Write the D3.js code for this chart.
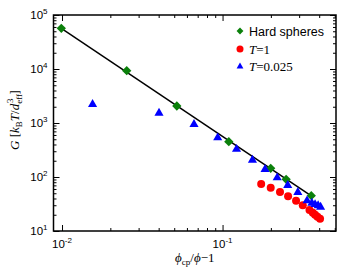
<!DOCTYPE html>
<html>
<head>
<meta charset="utf-8">
<script src="https://cdn.jsdelivr.net/npm/d3@7"></script>
<style>
  body { margin: 0; background: white; }
</style>
</head>
<body>
<svg></svg>
<script>
const width = 340;
const height = 280;
const margin = { top: 15, right: 4, bottom: 49, left: 53.5 };

// hard spheres
const hsX = [0.0099, 0.0253, 0.0519, 0.1094, 0.1995, 0.249, 0.357];
const hsG = [56700, 9300, 2065, 451, 145, 90.6, 45];
// power-law guide line
const fitX = [0.0099, 0.357];
const fitG = [56700, 44.5];
// T = 1
const t1X = [0.174, 0.1995, 0.228, 0.256, 0.287, 0.316, 0.348, 0.365, 0.377, 0.390, 0.405];
const t1G = [74, 63.4, 52.7, 44, 36.4, 29.9, 24.5, 21.8, 20, 18.4, 16.9];
// T = 0.025
const t025X = [0.0155, 0.0402, 0.0664, 0.0933, 0.1222, 0.1535, 0.184, 0.219, 0.2547, 0.2945, 0.336, 0.360, 0.377, 0.394, 0.408];
const t025G = [2220, 1531, 946, 535, 327, 206, 139, 97, 70, 52, 36.4, 33, 31, 29.6, 27.8];

const xMajor = [0.01, 0.1];
const xMajorExp = ["-2", "-1"];
const yMajor = [10, 100, 1000, 10000, 100000];
const yMajorExp = ["1", "2", "3", "4", "5"];

const sans = '"Liberation Sans", Arial, sans-serif';
const serif = '"Liberation Serif", "Times New Roman", serif';

const svg = d3.select("svg")
  .attr("width", width)
  .attr("height", height);

const x = d3.scaleLog()
  .domain([0.00885, 0.509])
  .range([margin.left, width - margin.right]);

const y = d3.scaleLog()
  .domain([10, 100000])
  .range([height - margin.bottom, margin.top]);

// minor ticks
const xMinor = [];
[0.01, 0.1].forEach(d => { for (let k = 1; k < 10; k++) xMinor.push(d * k); });
const xMinorIn = xMinor.filter(v => v >= 0.00885 && v <= 0.509 && !xMajor.includes(v));
const yMinor = [];
[10, 100, 1000, 10000].forEach(d => { for (let k = 2; k < 10; k++) yMinor.push(d * k); });

function ticks(axis, values, size) {
  return axis.tickValues(values).tickSize(-size).tickFormat("");
}

const bottom = height - margin.bottom;
const right = width - margin.right;

const axes = [
  [d3.axisBottom(x), xMajor, 6, `translate(0,${bottom})`],
  [d3.axisBottom(x), xMinorIn, 3, `translate(0,${bottom})`],
  [d3.axisTop(x), xMajor, 6, `translate(0,${margin.top})`],
  [d3.axisTop(x), xMinorIn, 3, `translate(0,${margin.top})`],
  [d3.axisLeft(y), yMajor, 6, `translate(${margin.left},0)`],
  [d3.axisLeft(y), yMinor, 3, `translate(${margin.left},0)`],
  [d3.axisRight(y), yMajor, 6, `translate(${right},0)`],
  [d3.axisRight(y), yMinor, 3, `translate(${right},0)`]
];

axes.forEach(([ax, vals, size, tr]) => {
  const g = svg.append("g").attr("transform", tr).call(ticks(ax, vals, size));
  g.select(".domain").remove();
  g.selectAll("line").attr("stroke", "#000").attr("stroke-width", 1);
});

svg.append("rect")
  .attr("x", margin.left)
  .attr("y", margin.top)
  .attr("width", right - margin.left)
  .attr("height", bottom - margin.top)
  .attr("fill", "none")
  .attr("stroke", "#000")
  .attr("stroke-width", 1.5);

// tick labels
xMajor.forEach((v, i) => {
  const t = svg.append("text")
    .attr("x", x(v))
    .attr("y", bottom + 17)
    .attr("text-anchor", "middle")
    .style("font-family", sans)
    .style("font-size", "11.5px");
  t.append("tspan").text("10");
  t.append("tspan").attr("dy", -5).style("font-size", "8px").text(xMajorExp[i]);
});

yMajor.forEach((v, i) => {
  const t = svg.append("text")
    .attr("x", margin.left - 6)
    .attr("y", y(v) + 4)
    .attr("text-anchor", "end")
    .style("font-family", sans)
    .style("font-size", "11.5px");
  t.append("tspan").text("10");
  t.append("tspan").attr("dy", -5).style("font-size", "8px").text(yMajorExp[i]);
});

// axis titles
const xl = svg.append("text")
  .attr("x", (margin.left + right) / 2)
  .attr("y", 262)
  .attr("text-anchor", "middle")
  .style("font-family", serif)
  .style("font-size", "13px");
xl.append("tspan").style("font-style", "italic").text("ϕ");
xl.append("tspan").attr("dy", 3).style("font-size", "9px").text("cp");
xl.append("tspan").attr("dy", -3).text("/");
xl.append("tspan").style("font-style", "italic").text("ϕ");
xl.append("tspan").text("−1");

const yl = svg.append("text")
  .attr("transform", `translate(19,${(margin.top + bottom) / 2 - 3}) rotate(-90)`)
  .attr("text-anchor", "middle")
  .style("font-family", serif)
  .style("font-size", "13px");
yl.append("tspan").style("font-style", "italic").text("G");
yl.append("tspan").text(" [");
yl.append("tspan").style("font-style", "italic").text("k");
yl.append("tspan").attr("dy", 3).style("font-size", "9px").text("B");
yl.append("tspan").attr("dy", -3).style("font-style", "italic").text("T");
yl.append("tspan").text("/");
yl.append("tspan").style("font-style", "italic").text("d");
yl.append("tspan").attr("dy", 3).style("font-size", "9px").text("eff");
yl.append("tspan").attr("dx", -9).attr("dy", -9).style("font-size", "9px").text("3");
yl.append("tspan").attr("dx", 4).attr("dy", 6).text("]");

// power-law line
svg.append("path")
  .datum(fitX.map((v, i) => [v, fitG[i]]))
  .attr("d", d3.line().x(d => x(d[0])).y(d => y(d[1])))
  .attr("fill", "none")
  .attr("stroke", "#000")
  .attr("stroke-width", 1.5);

const diamond = d3.symbol().type(d3.symbolDiamond2).size(55);
const tri = d3.symbol().type(d3.symbolTriangle).size(36);

svg.append("g").selectAll("path")
  .data(hsX.map((v, i) => [v, hsG[i]]))
  .join("path")
  .attr("transform", d => `translate(${x(d[0])},${y(d[1])})`)
  .attr("d", diamond)
  .attr("fill", "#0b800b");

svg.append("g").selectAll("circle")
  .data(t1X.map((v, i) => [v, t1G[i]]))
  .join("circle")
  .attr("cx", d => x(d[0]))
  .attr("cy", d => y(d[1]))
  .attr("r", 4)
  .attr("fill", "#ff0000");

svg.append("g").selectAll("path")
  .data(t025X.map((v, i) => [v, t025G[i]]))
  .join("path")
  .attr("transform", d => `translate(${x(d[0])},${y(d[1])})`)
  .attr("d", tri)
  .attr("fill", "#0000ff");

// legend
const legend = svg.append("g").attr("transform", "translate(240,31)");
legend.append("path").attr("d", d3.symbol().type(d3.symbolDiamond2).size(30)).attr("fill", "#0b800b");
legend.append("circle").attr("cy", 18).attr("r", 3.5).attr("fill", "#ff0000");
legend.append("path").attr("transform", "translate(0,35.5)").attr("d", d3.symbol().type(d3.symbolTriangle).size(20)).attr("fill", "#0000ff");

legend.append("text").attr("x", 9).attr("y", 4.5)
  .style("font-family", sans).style("font-size", "12.5px").text("Hard spheres");

const l2 = legend.append("text").attr("x", 9).attr("y", 22.5)
  .style("font-family", serif).style("font-size", "13px");
l2.append("tspan").style("font-style", "italic").text("T");
l2.append("tspan").text("=1");

const l3 = legend.append("text").attr("x", 9).attr("y", 40)
  .style("font-family", serif).style("font-size", "13px");
l3.append("tspan").style("font-style", "italic").text("T");
l3.append("tspan").text("=0.025");
</script>
</body>
</html>
